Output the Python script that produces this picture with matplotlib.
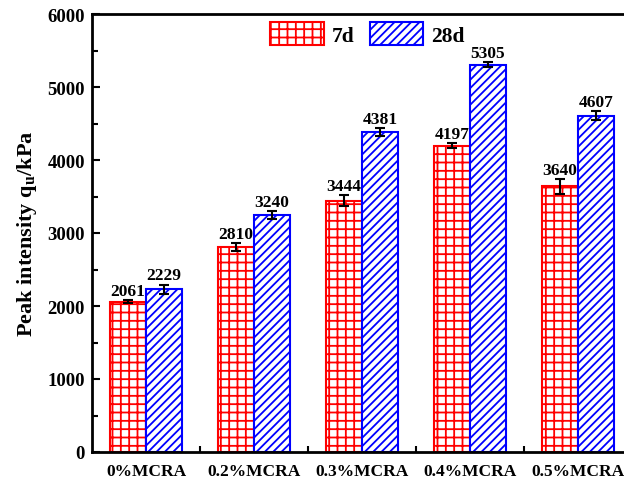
import numpy as np
import matplotlib
matplotlib.use("Agg")
from matplotlib import pyplot as plt

groups = ["0%MCRA", "0.2%MCRA", "0.3%MCRA", "0.4%MCRA", "0.5%MCRA"]
q_7d = [2061, 2810, 3444, 4197, 3640]
q_28d = [2229, 3240, 4381, 5305, 4607]
err_7d = [25, 55, 75, 35, 100]
err_28d = [65, 55, 55, 35, 60]

plt.rcParams['font.family'] = ['Liberation Serif', 'DejaVu Serif']
plt.rcParams['font.weight'] = 'bold'
plt.rcParams['hatch.linewidth'] = 1.3
plt.rcParams['mathtext.fontset'] = 'custom'
plt.rcParams['mathtext.rm'] = 'Liberation Serif:bold'
plt.rcParams['mathtext.bf'] = 'Liberation Serif:bold'

fig = plt.figure(figsize=(6.24, 4.81), dpi=100)
ax = fig.add_axes([92/624, 28/481, 540/624, 438/481])

x = np.arange(len(groups))
w = 0.33
ax.bar(x - w/2, q_7d, w, color='white', edgecolor='red', hatch='++',
       linewidth=1.5, label='7d')
ax.bar(x + w/2, q_28d, w, color='white', edgecolor='blue', hatch='////',
       linewidth=1.5, label='28d')
ax.errorbar(x - w/2, q_7d, yerr=err_7d, fmt='none', ecolor='black',
            elinewidth=1.5, capsize=3.5, capthick=1.5)
ax.errorbar(x + w/2, q_28d, yerr=err_28d, fmt='none', ecolor='black',
            elinewidth=1.5, capsize=3.5, capthick=1.5)

# value labels above the error bars
for xi, v, e in zip(x - w/2, q_7d, err_7d):
    ax.text(xi, v + e + 15, str(v), ha='center', va='bottom',
            fontsize=12.5, fontweight='bold')
for xi, v, e in zip(x + w/2, q_28d, err_28d):
    ax.text(xi, v + e + 15, str(v), ha='center', va='bottom',
            fontsize=12.5, fontweight='bold')

ax.set_xlim(-0.5, 4.5)
ax.set_ylim(0, 6000)
ax.set_yticks(range(0, 6001, 1000))
ax.set_yticks(range(500, 6000, 1000), minor=True)
ax.set_xticks(x)
ax.set_xticklabels(groups, fontsize=12.5, fontweight='bold')
ax.set_xticks(x[:-1] + 0.5, minor=True)
ax.tick_params(axis='x', which='major', length=0, pad=8)
ax.tick_params(axis='x', which='minor', direction='in', length=4, width=1.5)
ax.tick_params(axis='y', which='major', direction='in', length=6, width=1.5,
               labelsize=13.5, pad=5)
ax.tick_params(axis='y', which='minor', direction='in', length=4, width=1.5)
for lbl in ax.get_yticklabels():
    lbl.set_fontweight('bold')
for s in ax.spines.values():
    s.set_linewidth(2)

ax.set_ylabel(r"Peak intensity q$_\mathrm{u}$/kPa", fontsize=16,
              fontweight='bold', labelpad=6)

ax.legend(loc='center', bbox_to_anchor=(0.51, 0.955), ncol=2, frameon=False,
          handlelength=2.5, handleheight=1.25, columnspacing=0.7,
          handletextpad=0.35, prop={'weight': 'bold', 'size': 15.5})

fig.savefig("out.png", dpi=100)
